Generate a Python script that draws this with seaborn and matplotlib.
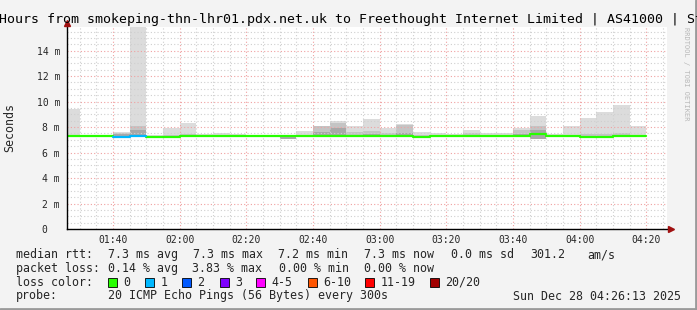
import numpy as np
import pandas as pd
import matplotlib
matplotlib.use("Agg")
import matplotlib.pyplot as plt
from matplotlib.ticker import MultipleLocator, FuncFormatter
from matplotlib.lines import Line2D
import seaborn as sns

# ---------------- data (ms, 5-minute steps starting 01:25) ----------------
step_start_min = [85 + 5 * i for i in range(35)]  # minutes since midnight
smoke_lo  = [7.20, 7.25, 7.25, 7.20, 7.30, 7.20, 7.20, 7.20, 7.25, 7.25,
             7.25, 7.25, 7.25, 7.10, 7.25, 7.25, 7.25, 7.25, 7.25, 7.25,
             7.25, 7.15, 7.25, 7.25, 7.25, 7.25, 7.25, 7.25, 7.10, 7.25,
             7.25, 7.20, 7.20, 7.25, 7.25]
light_top = [9.40, 7.40, 7.40, 7.60, 16.5, 7.40, 7.90, 8.35, 7.45, 7.50,
             7.45, 7.40, 7.35, 7.35, 7.70, 8.10, 8.50, 8.05, 8.65, 7.95,
             8.25, 7.65, 7.55, 7.45, 7.80, 7.50, 7.50, 7.95, 8.85, 7.45,
             8.05, 8.75, 9.15, 9.70, 8.05]
mid_top   = [7.40, 7.35, 7.35, 7.55, 8.10, 7.30, 7.35, 7.45, 7.35, 7.35,
             7.35, 7.35, 7.30, 7.30, 7.40, 8.10, 8.35, 7.65, 7.70, 7.55,
             8.20, 7.40, 7.40, 7.35, 7.50, 7.35, 7.40, 7.75, 8.05, 7.35,
             7.40, 7.45, 7.45, 7.50, 7.40]
dark_top  = [7.35, 7.30, 7.30, 7.45, 7.80, 7.25, 7.25, 7.35, 7.30, 7.30,
             7.30, 7.30, 7.28, 7.25, 7.30, 7.60, 7.90, 7.40, 7.45, 7.40,
             7.50, 7.30, 7.30, 7.30, 7.35, 7.30, 7.30, 7.45, 7.75, 7.30,
             7.30, 7.30, 7.30, 7.35, 7.30]
median_ms = [7.30, 7.30, 7.30, 7.25, 7.28, 7.22, 7.22, 7.30, 7.30, 7.30,
             7.30, 7.30, 7.30, 7.30, 7.30, 7.30, 7.30, 7.30, 7.30, 7.30,
             7.30, 7.20, 7.30, 7.30, 7.30, 7.30, 7.30, 7.30, 7.45, 7.30,
             7.30, 7.22, 7.22, 7.30, 7.30]
lost_pings = [0, 0, 0, 1, 1, 0, 0, 0, 0, 0,
              0, 0, 0, 0, 0, 0, 0, 0, 0, 0,
              0, 0, 0, 0, 0, 0, 0, 0, 0, 0,
              0, 0, 0, 0, 0]

loss_labels = ["0", "1", "2", "3", "4-5", "6-10", "11-19", "20/20"]
loss_colors = ["#26ff00", "#00b8ff", "#0059ff", "#7e00ff", "#ff00ff",
               "#ff5500", "#ff0000", "#a10000"]

title_text = "Hours from smokeping-thn-lhr01.pdx.net.uk to Freethought Internet Limited | AS41000 | St"
x_start_min = 86 + 13 / 60.0   # 01:26:13
x_end_min = x_start_min + 180  # 04:26:13

# ---------------- style ----------------
sns.set_style("white")
MONO = ["DejaVu Sans Mono", "DejaVu Sans"]
plt.rcParams["font.family"] = MONO

W, H = 697, 310
fig = plt.figure(figsize=(W / 100, H / 100), dpi=100, facecolor="#f3f3f3")
L, R, T, B = 67, 667, 27, 229
ax = fig.add_axes([L / W, (H - B) / H, (R - L) / W, (B - T) / H])
ax.set_facecolor("white")

ymax = (B - T) / 12.74
ax.set_xlim(x_start_min, x_end_min)
ax.set_ylim(0, ymax)

# smoke bars
x = np.array(step_start_min, dtype=float)
lo = np.array(smoke_lo)
for tops, col in [(light_top, "#dcdcdc"), (mid_top, "#c4c4c4"), (dark_top, "#a8a8a8")]:
    h = np.array(tops) - lo
    ax.bar(x, h, bottom=lo, width=5, align="edge", color=col, linewidth=0, zorder=1)

# median line, coloured by loss
rows = []
for i, (s, m, l) in enumerate(zip(step_start_min, median_ms, lost_pings)):
    rows.append({"t": s, "median": m, "seg": i, "loss": loss_labels[l]})
    rows.append({"t": s + 5, "median": m, "seg": i, "loss": loss_labels[l]})
df = pd.DataFrame(rows)
sns.lineplot(data=df, x="t", y="median", hue="loss", units="seg", estimator=None,
             palette=dict(zip(loss_labels, loss_colors)), linewidth=1.6,
             legend=False, ax=ax, zorder=4)
ax.set_xlabel("")
ax.set_ylabel("")

# grids
ax.xaxis.set_major_locator(MultipleLocator(20))
ax.xaxis.set_minor_locator(MultipleLocator(5))
ax.yaxis.set_major_locator(MultipleLocator(2))
ax.yaxis.set_minor_locator(MultipleLocator(0.5))
ax.grid(which="minor", color="#cfcfcf", linestyle=(0, (1, 2)), linewidth=0.8, zorder=2)
ax.grid(which="major", color="#f0a0a0", linestyle=(0, (1, 2)), linewidth=0.8, zorder=3)
ax.set_axisbelow(False)

ax.xaxis.set_major_formatter(FuncFormatter(lambda v, p: f"{int(v)//60:02d}:{int(v)%60:02d}"))
ax.yaxis.set_major_formatter(FuncFormatter(lambda v, p: "0  " if abs(v) < 1e-9 else f"{int(round(v))} m"))
ax.tick_params(axis="both", which="both", direction="in")
ax.tick_params(axis="x", which="major", length=3, color="#ff0000", pad=4, labelsize=7)
ax.tick_params(axis="y", which="major", length=3, color="#ff0000", pad=5, labelsize=7)
ax.tick_params(which="minor", length=2, color="#999999")

for s in ["top", "right"]:
    ax.spines[s].set_visible(False)
for s in ["left", "bottom"]:
    ax.spines[s].set_color("black")
    ax.spines[s].set_linewidth(1.0)
    ax.spines[s].set_zorder(5)

# axis arrows
ax.plot([1 + 4 / 600], [0], marker=">", ms=5, color="#a01010", transform=ax.transAxes,
        clip_on=False, zorder=6)
ax.plot([0], [1 + 4 / 202], marker="^", ms=5, color="#a01010", transform=ax.transAxes,
        clip_on=False, zorder=6)

# titles and labels
fig.text(-1 / W, 1 - 19 / H, title_text, fontsize=9.5, ha="left", va="center", color="black")
fig.text(10 / W, 1 - 128 / H, "Seconds", rotation=90, fontsize=8.4, ha="center", va="center")
fig.text(686 / W, 1 - 27 / H, "RRDTOOL / TOBI OETIKER", rotation=270, fontsize=5,
         ha="center", va="top", color="#b8b8b8")

# legend / stats text
fs = 8.4
def t(xp, yp, s, **kw):
    fig.text(xp / W, 1 - yp / H, s, fontsize=fs, ha="left", va="center", **kw)

y1, y2, y3, y4 = 254.5, 268.5, 282.0, 296.0
t(16, y1, "median rtt:")
for xp, s in [(107.5, "7.3 ms avg"), (193, "7.3 ms max"), (278.5, "7.2 ms min"),
              (364.5, "7.3 ms now"), (451, "0.0 ms sd"), (530, "301.2"), (587, "am/s")]:
    t(xp, y1, s)
t(16, y2, "packet loss:")
for xp, s in [(107.5, "0.14 % avg"), (192.5, "3.83 % max"), (279, "0.00 % min"), (364.5, "0.00 % now")]:
    t(xp, y2, s)
t(16, y3, "loss color:")
box_x = [107.6, 145, 182, 219.6, 256.4, 307.6, 365, 430]
for bx, lab, col in zip(box_x, loss_labels, loss_colors):
    fig.patches.append(plt.Rectangle((bx / W, 1 - (y3 + 4.5) / H), 9 / W, 9 / H,
                                     transform=fig.transFigure, facecolor=col,
                                     edgecolor="black", linewidth=0.6))
    t(bx + 15.5, y3, lab)
t(16, y4, "probe:")
t(107.5, y4, "20 ICMP Echo Pings (56 Bytes) every 300s")
t(513, y4, "Sun Dec 28 04:26:13 2025")

# image border (bottom / right darker)
fig.add_artist(Line2D([0, 1], [1 / H, 1 / H], transform=fig.transFigure, color="#9a9a9a", linewidth=2))
fig.add_artist(Line2D([1 - 1 / W, 1 - 1 / W], [0, 1], transform=fig.transFigure, color="#9a9a9a", linewidth=2))

fig.savefig("out.png", dpi=100, facecolor=fig.get_facecolor())
